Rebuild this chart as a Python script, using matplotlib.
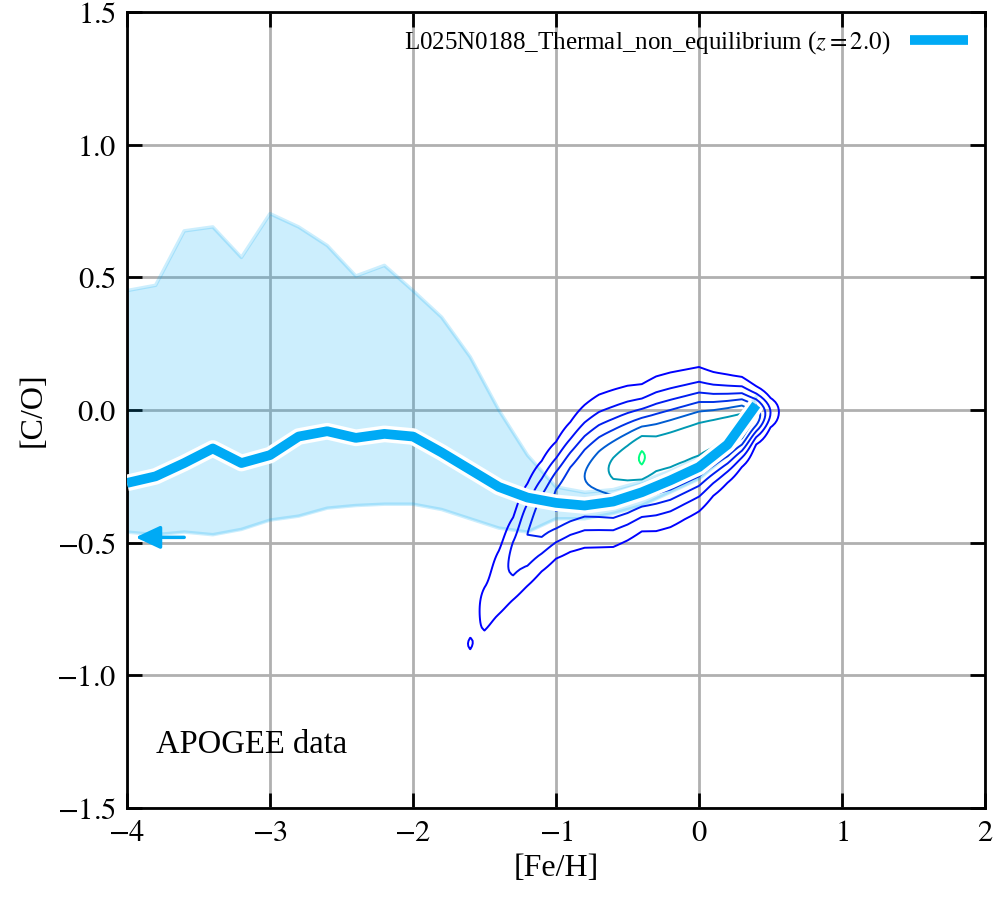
import numpy as np
import matplotlib
matplotlib.use('Agg')
import matplotlib.pyplot as plt
import matplotlib.patheffects as pe

plt.rcParams['font.family'] = ['Liberation Serif', 'DejaVu Serif']
plt.rcParams['mathtext.fontset'] = 'stix'

# simulation median + spread, [C/O] vs [Fe/H]
fe_h = [-4.0, -3.8, -3.6, -3.4, -3.2, -3.0, -2.8, -2.6, -2.4, -2.2, -2.0, -1.8,
        -1.6, -1.4, -1.2, -1.0, -0.8, -0.6, -0.4, -0.2, 0.0, 0.2, 0.4]
co_median = [-0.275, -0.25, -0.20, -0.145, -0.20, -0.17, -0.10, -0.08, -0.105, -0.09, -0.10, -0.16,
             -0.225, -0.29, -0.33, -0.35, -0.36, -0.345, -0.31, -0.265, -0.215, -0.13, 0.02]
co_upper = [0.45, 0.47, 0.675, 0.69, 0.575, 0.74, 0.69, 0.62, 0.505, 0.545, 0.45, 0.35,
            0.20, 0.0, -0.17, -0.29, -0.31, -0.30, -0.27, -0.23, -0.18, -0.10, 0.05]
co_lower = [-0.46, -0.47, -0.46, -0.47, -0.45, -0.415, -0.40, -0.37, -0.36, -0.355, -0.355, -0.375,
            -0.41, -0.445, -0.46, -0.41, -0.41, -0.39, -0.36, -0.31, -0.26, -0.17, 0.0]

# APOGEE density ridge (one column every 0.1 dex)
apogee_feh = [-1.7, -1.6, -1.5, -1.4, -1.3, -1.2, -1.1, -1.0, -0.9, -0.8, -0.7, -0.6,
              -0.5, -0.4, -0.3, -0.2, -0.1, 0.0, 0.1, 0.2, 0.3, 0.4, 0.5, 0.6]
ridge_centre = [-0.90, -0.88, -0.75, -0.65, -0.56, -0.47, -0.40, -0.34, -0.29, -0.25, -0.23, -0.22,
                -0.20, -0.18, -0.165, -0.15, -0.13, -0.11, -0.09, -0.07, -0.045, -0.02, -0.01, 0.0]
ridge_peak = [0.5, 1.1, 1.5, 1.8, 2.3, 3.0, 3.6, 4.2, 4.6, 5.0, 5.6, 6.2,
              6.6, 7.12, 6.6, 6.6, 6.6, 6.6, 6.6, 6.55, 6.4, 4.8, 2.0, 0.3]
ridge_width = [0.05, 0.05, 0.09, 0.11, 0.12, 0.13, 0.13, 0.13, 0.14, 0.15, 0.155, 0.155,
               0.15, 0.14, 0.15, 0.15, 0.145, 0.14, 0.12, 0.105, 0.088, 0.062, 0.047, 0.04]
contour_levels = [1, 2, 3, 4, 5, 6, 7]
level_shades = [0.0, 0.06, 0.12, 0.2, 0.36, 0.6, 1.0]

arrow_y = -0.48
line_color = '#00aaf5'

fig = plt.figure(figsize=(9.96, 9.0), dpi=100)
ax = fig.add_axes([0.1275, 0.1022, 0.8615, 0.8845])

# band
ax.fill_between(fe_h, co_lower, co_upper, color=line_color, alpha=0.2, lw=0, zorder=2)
ax.plot(fe_h, co_upper, color=line_color, alpha=0.2, lw=2.5, zorder=2)
ax.plot(fe_h, co_lower, color=line_color, alpha=0.2, lw=2.5, zorder=2)

# APOGEE contours
ygrid = np.arange(-1.1, 0.35, 0.01)
cen = np.array(ridge_centre)
wid = np.array(ridge_width)
peak = np.array(ridge_peak)
dens = peak[None, :] * np.exp(-0.5 * ((ygrid[:, None] - cen[None, :]) / wid[None, :]) ** 2)
ax.contour(apogee_feh, ygrid, dens, levels=contour_levels,
           colors=[plt.cm.winter(t) for t in level_shades], linewidths=1.4, zorder=3)

# median
ax.plot(fe_h, co_median, color=line_color, lw=7, zorder=4, solid_capstyle='butt',
        label=r'L025N0188_Thermal_non_equilibrium ($z=2.0$)',
        path_effects=[pe.Stroke(linewidth=12, foreground='white'), pe.Normal()])

ax.annotate('', xy=(-3.94, arrow_y), xytext=(-3.6, arrow_y),
            arrowprops=dict(arrowstyle='-|>,head_length=0.75,head_width=0.35',
                            mutation_scale=20, color=line_color, lw=2.5,
                            shrinkA=0, shrinkB=0), zorder=5)

ax.text(-3.8, -1.26, 'APOGEE data', fontsize=23.5, va='center', ha='left')

xt = [-4, -3, -2, -1, 0, 1, 2]
yt = [-1.5, -1.0, -0.5, 0.0, 0.5, 1.0, 1.5]
ax.set_xlim(-4, 2)
ax.set_ylim(-1.5, 1.5)
ax.set_xticks(xt)
ax.set_xticklabels([r'$%d$' % v for v in xt])
ax.set_yticks(yt)
ax.set_yticklabels([r'$%.1f$' % v for v in yt])
ax.grid(True, color='#b0b0b0', lw=2)
ax.set_axisbelow(True)
ax.tick_params(direction='in', length=11, width=2, top=True, right=True, labelsize=22, pad=8)
for s in ax.spines.values():
    s.set_linewidth(2)

ax.set_xlabel('[Fe/H]', fontsize=23, labelpad=4)
ax.set_ylabel('[C/O]', fontsize=23, labelpad=6)

leg = ax.legend(loc='upper right', frameon=False, markerfirst=False, fontsize=18,
                handlelength=2.3, borderaxespad=0.3)
for h in leg.legend_handles:
    h.set_path_effects([])

fig.savefig('out.png', dpi=100)
